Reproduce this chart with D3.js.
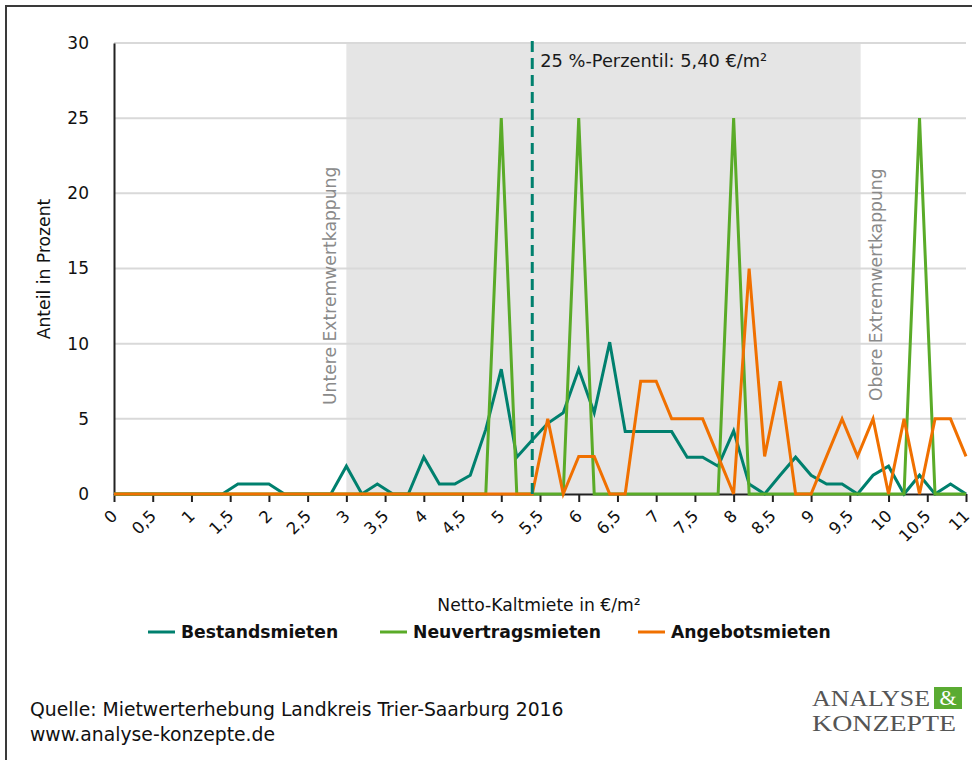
<!DOCTYPE html>
<html>
<head>
<meta charset="utf-8">
<script src="https://cdn.jsdelivr.net/npm/d3@7"></script>
<style>
  body { margin: 0; background: #fff; }
  text { font-family: "DejaVu Sans", sans-serif; }
</style>
</head>
<body>
<div id="viz"></div>
<script>
// Netto-Kaltmiete in €/m² (Klassen)
var miete = [0, 0.2, 0.4, 0.6, 0.8, 1, 1.2, 1.4, 1.6, 1.8, 2, 2.2, 2.4, 2.6, 2.8, 3, 3.2, 3.4, 3.6, 3.8,
             4, 4.2, 4.4, 4.6, 4.8, 5, 5.2, 5.4, 5.6, 5.8, 6, 6.2, 6.4, 6.6, 6.8, 7, 7.2, 7.4, 7.6, 7.8,
             8, 8.2, 8.4, 8.6, 8.8, 9, 9.2, 9.4, 9.6, 9.8, 10, 10.2, 10.4, 10.6, 10.8, 11];

var bestandsmieten = [0, 0, 0, 0, 0, 0, 0, 0, 0.66, 0.66, 0.66, 0, 0, 0, 0, 1.85, 0, 0.66, 0, 0,
                      2.45, 0.66, 0.66, 1.25, 4.3, 8.3, 2.45, 3.6, 4.7, 5.4, 8.3, 5.4, 10.1, 4.15, 4.15, 4.15, 4.15, 2.45, 2.45, 1.85,
                      4.2, 0.66, 0, 1.25, 2.45, 1.25, 0.66, 0.66, 0, 1.25, 1.85, 0, 1.25, 0, 0.66, 0];

var neuvertragsmieten = [0, 0, 0, 0, 0, 0, 0, 0, 0, 0, 0, 0, 0, 0, 0, 0, 0, 0, 0, 0,
                         0, 0, 0, 0, 0, 25, 0, 0, 0, 0, 25, 0, 0, 0, 0, 0, 0, 0, 0, 0,
                         25, 0, 0, 0, 0, 0, 0, 0, 0, 0, 0, 0, 25, 0, 0, 0];

var angebotsmieten = [0, 0, 0, 0, 0, 0, 0, 0, 0, 0, 0, 0, 0, 0, 0, 0, 0, 0, 0, 0,
                      0, 0, 0, 0, 0, 0, 0, 0, 5, 0, 2.5, 2.5, 0, 0, 7.5, 7.5, 5, 5, 5, 2.5,
                      0, 15, 2.5, 7.5, 0, 0, 2.5, 5, 2.5, 5, 0, 5, 0, 5, 5, 2.5];

var xTicks = [0, 0.5, 1, 1.5, 2, 2.5, 3, 3.5, 4, 4.5, 5, 5.5, 6, 6.5, 7, 7.5, 8, 8.5, 9, 9.5, 10, 10.5, 11];
var yTicks = [0, 5, 10, 15, 20, 25, 30];

var kappungUnten = 3.0, kappungOben = 9.64, perzentil25 = 5.4;

var series = [
  {name: "Bestandsmieten", values: bestandsmieten, color: "#00806e"},
  {name: "Neuvertragsmieten", values: neuvertragsmieten, color: "#5aab28"},
  {name: "Angebotsmieten", values: angebotsmieten, color: "#f07000"}
];

var width = 972, height = 760;
var plot = {left: 114, right: 966, top: 43, bottom: 494};

var svg = d3.select("#viz").append("svg")
    .attr("width", width)
    .attr("height", height);

// frame
svg.append("path")
    .attr("d", "M6," + height + "V6H" + width)
    .style("fill", "none")
    .style("stroke", "#3a3a3a")
    .style("stroke-width", 2);

var x = d3.scaleLinear().domain([0, 11]).range([plot.left, plot.right]);
var y = d3.scaleLinear().domain([0, 30]).range([plot.bottom, plot.top]);
var fmt = function(d) { return String(d).replace(".", ","); };

// Kappungsbereich
svg.append("rect")
    .attr("x", x(kappungUnten))
    .attr("y", y(30))
    .attr("width", x(kappungOben) - x(kappungUnten))
    .attr("height", y(0) - y(30))
    .style("fill", "#e5e5e5");

// grid
svg.append("g")
  .selectAll("line")
    .data(yTicks.filter(function(d) { return d > 0; }))
  .enter().append("line")
    .attr("x1", plot.left)
    .attr("x2", plot.right)
    .attr("y1", function(d) { return y(d); })
    .attr("y2", function(d) { return y(d); })
    .style("stroke", "#d9d9d9")
    .style("stroke-width", 2);

// y axis
var yAxis = svg.append("g")
    .attr("transform", "translate(" + plot.left + ",0)")
    .call(d3.axisLeft(y).tickValues(yTicks).tickSize(0).tickPadding(25));
yAxis.select(".domain").style("stroke", "#222").style("stroke-width", 2);
yAxis.selectAll("text")
    .style("font-family", "DejaVu Sans")
    .style("font-size", "17px")
    .style("fill", "#111");

// x axis
var xAxis = svg.append("g")
    .attr("transform", "translate(0," + plot.bottom + ")")
    .call(d3.axisBottom(x).tickValues(xTicks).tickFormat(fmt).tickSize(8).tickSizeOuter(0));
xAxis.select(".domain").style("stroke", "#222").style("stroke-width", 2);
xAxis.selectAll(".tick line").style("stroke", "#222").style("stroke-width", 2);
xAxis.selectAll("text")
    .attr("y", 0).attr("dy", 0)
    .attr("transform", "translate(4,23) rotate(-45)")
    .style("text-anchor", "end")
    .style("font-family", "DejaVu Sans")
    .style("font-size", "16.5px")
    .style("fill", "#111");

// axis titles
svg.append("text")
    .attr("x", (plot.left + plot.right) / 2 - 1)
    .attr("y", 611)
    .attr("text-anchor", "middle")
    .style("font-size", "17.2px")
    .style("fill", "#111")
    .text("Netto-Kaltmiete in €/m²");

svg.append("text")
    .attr("transform", "translate(50,269) rotate(-90)")
    .attr("text-anchor", "middle")
    .style("font-size", "17.2px")
    .style("fill", "#111")
    .text("Anteil in Prozent");

// band labels
svg.append("text")
    .attr("transform", "translate(" + (x(kappungUnten) - 10) + ",405) rotate(-90)")
    .style("font-size", "17.2px")
    .style("fill", "#8a8a8a")
    .text("Untere Extremwertkappung");

svg.append("text")
    .attr("transform", "translate(" + (x(kappungOben) + 21) + ",401) rotate(-90)")
    .style("font-size", "17.2px")
    .style("fill", "#8a8a8a")
    .text("Obere Extremwertkappung");

// lines
var line = d3.line()
    .x(function(d, i) { return x(miete[i]); })
    .y(function(d) { return y(d); });

svg.append("g")
  .selectAll("path")
    .data(series)
  .enter().append("path")
    .attr("d", function(d) { return line(d.values); })
    .style("fill", "none")
    .style("stroke", function(d) { return d.color; })
    .style("stroke-width", 3)
    .style("stroke-linejoin", "miter");

// 25 %-Perzentil
svg.append("line")
    .attr("x1", x(perzentil25))
    .attr("x2", x(perzentil25))
    .attr("y1", y(30) - 2)
    .attr("y2", y(0))
    .style("stroke", "#00806e")
    .style("stroke-width", 3)
    .style("stroke-dasharray", "11,6");

svg.append("text")
    .attr("x", x(perzentil25) + 8)
    .attr("y", 67)
    .style("font-size", "17.8px")
    .style("fill", "#1a1a1a")
    .text("25 %-Perzentil: 5,40 €/m²");

// legend
var legendX = [148, 380, 638];
var legend = svg.selectAll("g.legend")
    .data(series)
  .enter().append("g")
    .attr("class", "legend")
    .attr("transform", function(d, i) { return "translate(" + legendX[i] + ",632)"; });

legend.append("line")
    .attr("x1", 0).attr("x2", 27)
    .style("stroke", function(d) { return d.color; })
    .style("stroke-width", 3);

legend.append("text")
    .attr("x", 33)
    .attr("y", 6)
    .style("font-size", "17.2px")
    .style("font-weight", "bold")
    .style("fill", "#111")
    .text(function(d) { return d.name; });

// source
svg.append("text")
    .attr("x", 30).attr("y", 716)
    .style("font-size", "18.8px")
    .style("fill", "#111")
    .text("Quelle: Mietwerterhebung Landkreis Trier-Saarburg 2016");

svg.append("text")
    .attr("x", 30).attr("y", 741)
    .style("font-size", "18.8px")
    .style("fill", "#111")
    .text("www.analyse-konzepte.de");

// logo
var logo = svg.append("g");
logo.append("text")
    .attr("x", 812).attr("y", 706)
    .attr("textLength", 118).attr("lengthAdjust", "spacingAndGlyphs")
    .style("font-family", "Liberation Serif, DejaVu Serif, serif")
    .style("font-size", "24px")
    .style("fill", "#555")
    .text("ANALYSE");
logo.append("rect")
    .attr("x", 934).attr("y", 687)
    .attr("width", 28).attr("height", 22)
    .style("fill", "#5aab32");
logo.append("text")
    .attr("x", 948).attr("y", 705)
    .attr("text-anchor", "middle")
    .style("font-family", "Liberation Serif, DejaVu Serif, serif")
    .style("font-size", "22px")
    .style("fill", "#fff")
    .text("&");
logo.append("text")
    .attr("x", 812).attr("y", 731)
    .attr("textLength", 144).attr("lengthAdjust", "spacingAndGlyphs")
    .style("font-family", "Liberation Serif, DejaVu Serif, serif")
    .style("font-size", "24px")
    .style("fill", "#555")
    .text("KONZEPTE");
</script>
</body>
</html>
